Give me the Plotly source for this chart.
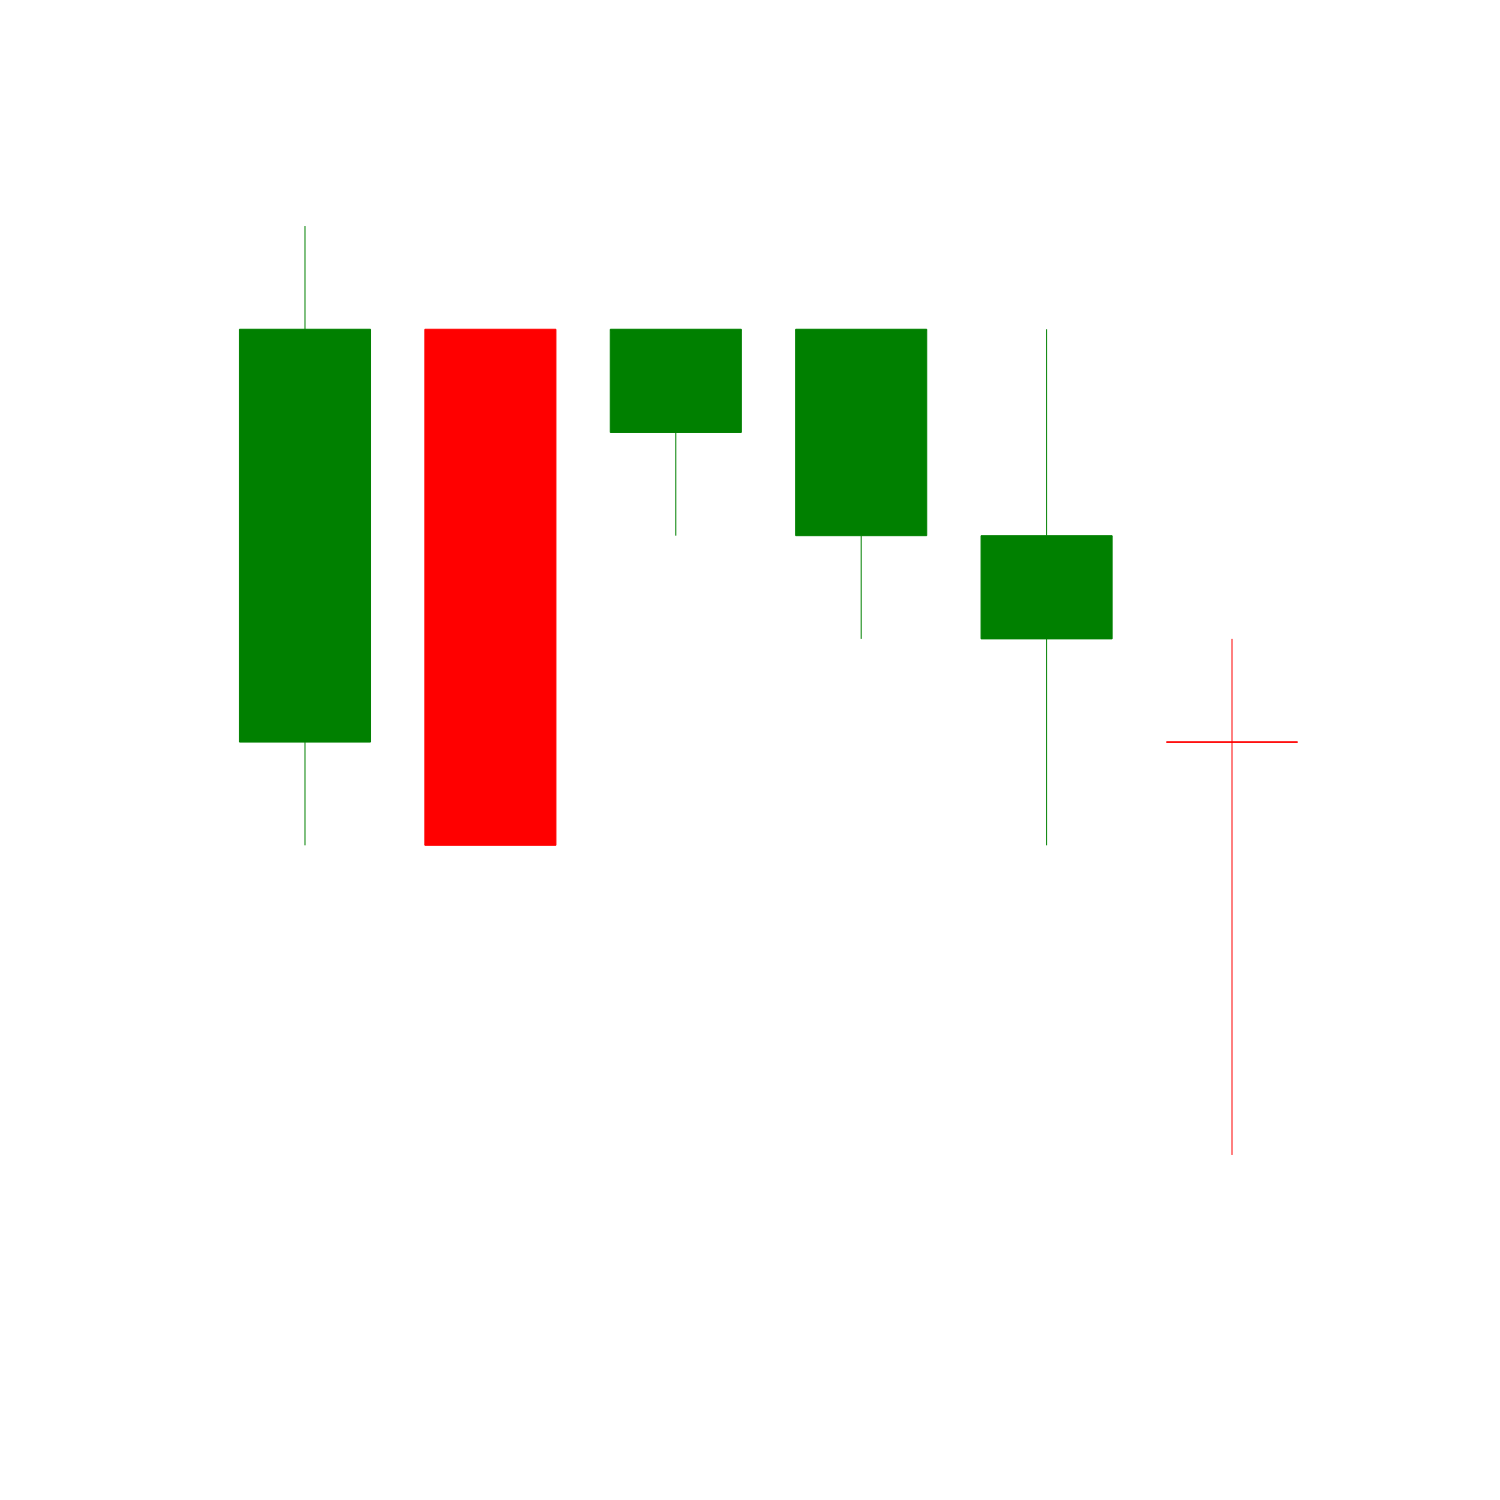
import plotly.graph_objects as go

x_vals = [0, 1, 2, 3, 4, 5]
open_vals = [4, 8, 7, 6, 5, 4]
high_vals = [9, 8, 8, 8, 8, 5]
low_vals = [3, 3, 6, 5, 3, 0]
close_vals = [8, 3, 8, 8, 6, 4]

fig = go.Figure(go.Candlestick(
    x=x_vals, open=open_vals, high=high_vals, low=low_vals, close=close_vals,
    increasing=dict(line=dict(color="green", width=1), fillcolor="green"),
    decreasing=dict(line=dict(color="red", width=1), fillcolor="red"),
    showlegend=False,
))

fig.update_layout(
    width=1500, height=1500,
    margin=dict(l=0, r=0, t=0, b=0),
    paper_bgcolor="white", plot_bgcolor="white",
    boxgap=0, boxgroupgap=0.293,
    xaxis=dict(visible=False, range=[-1.645, 6.4455], rangeslider=dict(visible=False)),
    yaxis=dict(visible=False, range=[-3.343, 11.19]),
    showlegend=False,
)

fig.write_html("out.html")
